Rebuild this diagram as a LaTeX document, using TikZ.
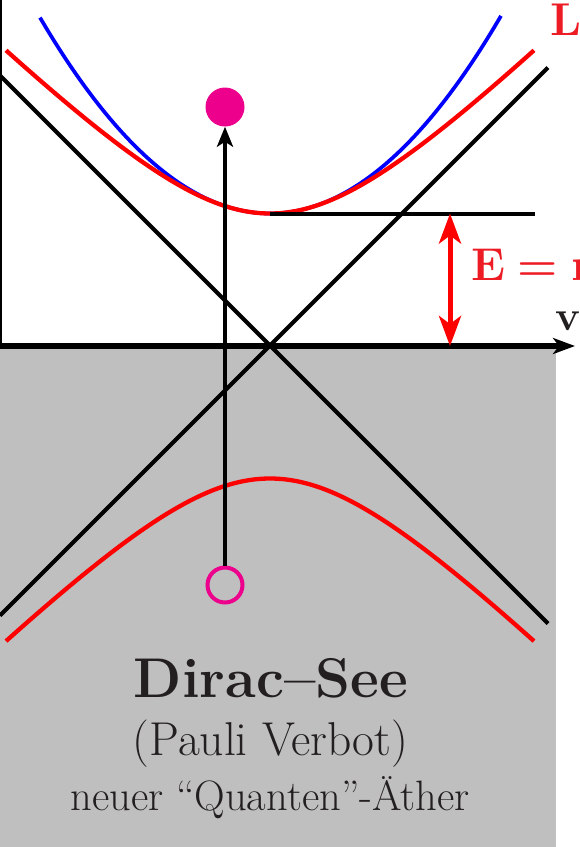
\documentclass[tikz,border=0pt]{standalone}
\usepackage{fontspec}
\usetikzlibrary{arrows.meta}
\definecolor{seagray}{RGB}{191,191,191}
\definecolor{curvered}{RGB}{255,0,0}
\definecolor{labelred}{RGB}{237,28,36}
\definecolor{holecol}{RGB}{236,0,140}
\definecolor{ink}{RGB}{35,31,32}
\begin{document}
\begin{tikzpicture}[x=10pt,y=-10pt,
  blackline/.style={black,line width=4pt},
  redcurve/.style={curvered,line width=4.3pt},
  bluecurve/.style={blue,line width=3.7pt},
  axisline/.style={black,line width=5.5pt,-{Stealth[length=22pt,width=16pt,inset=6pt]}},
  energyarrow/.style={curvered,line width=5pt,{Stealth[length=30pt,width=22pt,inset=8pt]}-{Stealth[length=30pt,width=22pt,inset=8pt]}},
  jumparrow/.style={black,line width=4pt,-{Stealth[length=20pt,width=16pt,inset=5pt]}},
  bigtext/.style={ink,anchor=base,inner sep=0pt},
  labeltext/.style={anchor=base west,inner sep=0pt}]
\useasboundingbox (0,0) rectangle (58,84.7);
\fill[seagray] (0,34.8) rectangle (55.6,84.7);
% light cone
\coordinate (O) at (27,34.55);
\coordinate (c1s) at (0,7.55);
\coordinate (c1e) at (54.8,62.35);
\coordinate (c2s) at (0,61.55);
\coordinate (c2e) at (54.8,6.75);
\draw[blackline] (c1s) -- (c1e);
\draw[blackline] (c2s) -- (c2e);
% curves
\draw[bluecurve] plot[domain=-23:23.1,samples=80,smooth] ({27+\x},{21.35-\x*\x/27});
\draw[redcurve] plot[domain=-26.4:26.4,samples=90,smooth] ({27+\x},{34.55-sqrt(13.2*13.2+\x*\x)});
\draw[redcurve] plot[domain=-26.4:26.4,samples=90,smooth] ({27+\x},{34.55+sqrt(13.3*13.3+\x*\x)});
% rest energy level
\coordinate (V) at (27,21.35);
\coordinate (Vend) at (53.5,21.35);
\draw[blackline] (V) -- (Vend);
% axes
\coordinate (Ytop) at (0.1,0);
\coordinate (Ybot) at (0.1,34.6);
\draw[black,line width=2pt] (Ytop) -- (Ybot);
\coordinate (Xs) at (0,34.6);
\coordinate (Xe) at (57.5,34.6);
\draw[axisline] (Xs) -- (Xe);
% energy gap arrow
\coordinate (Etop) at (45,21.35);
\coordinate (Ebot) at (45,34.6);
\draw[energyarrow] (Etop) -- (Ebot);
% particle and hole
\node[circle,fill=holecol,minimum size=39pt,inner sep=0pt] (particle) at (22.5,10.7) {};
\node[circle,draw=holecol,line width=4pt,minimum size=35pt,inner sep=0pt] (hole) at (22.5,58.5) {};
\draw[jumparrow] (hole) -- (particle);
% labels
\node[labeltext,labelred,font=\fontsize{46}{50}\selectfont\bfseries] (Llabel) at (55.0,3.5) {L};
\node[labeltext,labelred,font=\fontsize{46}{50}\selectfont\bfseries] (Elabel) at (47.1,28.0) {E\hspace{0.28em}=\hspace{0.28em}mc\textsuperscript{2}};
\node[labeltext,ink,font=\fontsize{42}{46}\selectfont\bfseries] (vlabel) at (55.5,33.0) {v};
\node[bigtext,font=\fontsize{56}{62}\selectfont\bfseries] (title) at (27.1,69.7) {Dirac–See};
\node[bigtext,font=\fontsize{47.5}{52}\selectfont] (pauli) at (27.05,75.5) {(Pauli Verbot)};
\node[bigtext,font=\fontsize{42.5}{46}\selectfont] (aether) at (27.0,81.0) {neuer “Quanten”-Äther};
\end{tikzpicture}
\end{document}
